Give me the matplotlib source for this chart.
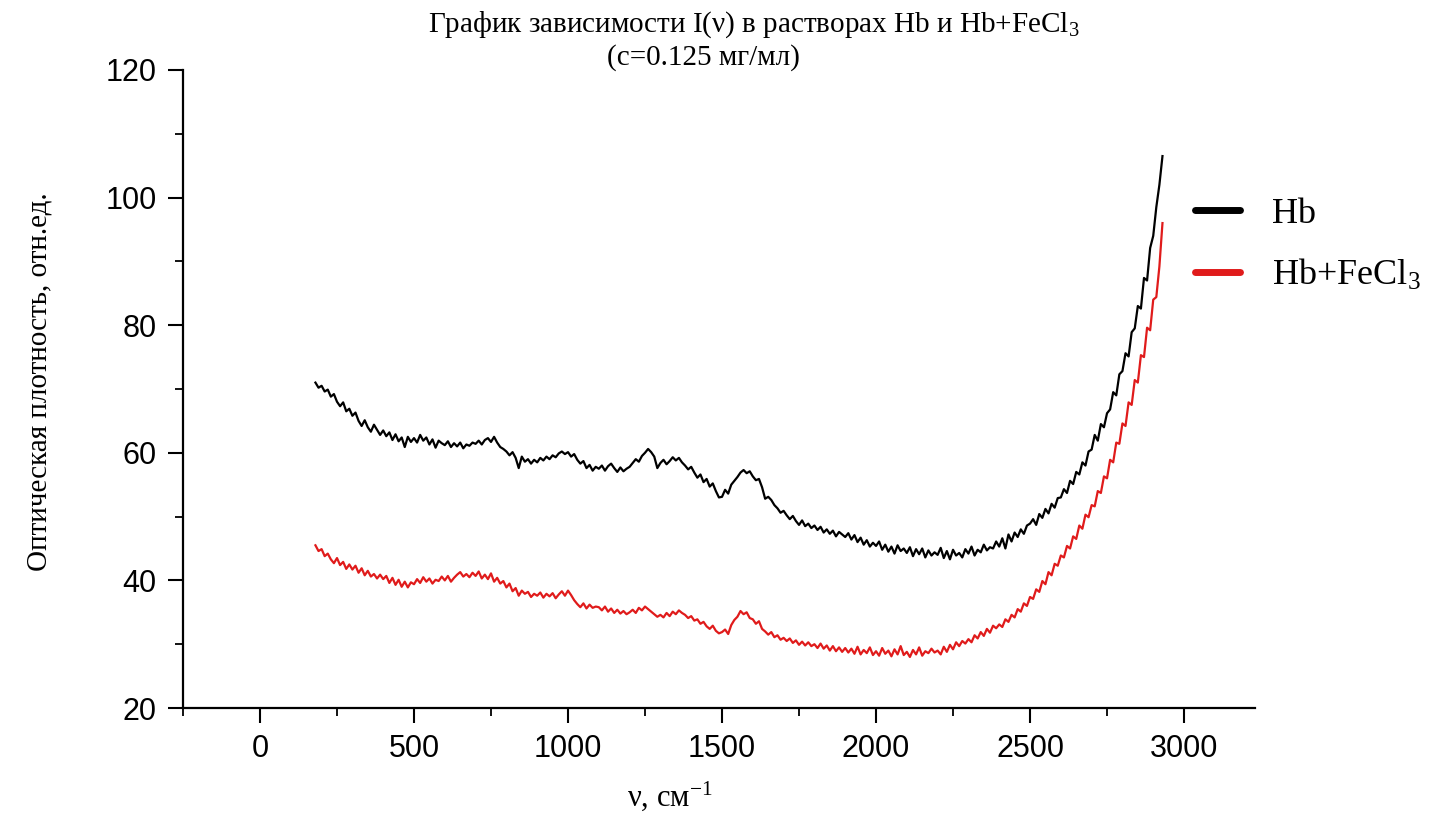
import numpy as np
import matplotlib
matplotlib.use("Agg")
import matplotlib.pyplot as plt

plt.rcParams['mathtext.fontset'] = 'custom'
plt.rcParams['mathtext.rm'] = 'Liberation Serif'
plt.rcParams['mathtext.it'] = 'Liberation Serif:italic'

# wavenumbers, cm-1 (read every 10 cm-1 from the picture)
nu = np.arange(180, 2931, 10)

# Hb
hb = [
    71.0, 70.2,
    70.5, 69.6, 69.9, 68.8, 69.2, 68.0, 67.3, 67.9, 66.5, 66.9,
    65.8, 66.3, 65.0, 64.2, 65.1, 64.0, 63.3, 64.4, 63.6, 62.8,
    63.5, 62.6, 63.2, 62.0, 62.9, 61.8, 62.4, 60.9, 62.5, 61.7,
    62.3, 61.6, 62.8, 61.9, 62.4, 61.3, 62.1, 60.8, 61.9, 61.5,
    61.2, 61.8, 60.9, 61.5, 61.0, 61.6, 60.7, 61.3, 61.1, 61.6,
    61.4, 61.9, 61.3, 62.0, 62.3, 61.7, 62.5, 61.6, 60.9, 60.6,
    60.2, 59.6, 60.1, 59.2, 57.6, 59.4, 58.6, 59.0, 58.3, 58.9,
    58.5, 59.2, 58.8, 59.4, 59.0, 59.6, 59.3, 59.9, 60.2, 59.8,
    60.1, 59.4, 59.8, 58.9, 58.3, 58.7, 57.6, 58.1, 57.2, 57.8,
    57.5, 58.0, 57.2, 57.9, 58.3, 57.6, 57.0, 57.7, 57.1, 57.5,
    57.8, 58.4, 59.0, 58.6, 59.5, 60.0, 60.6, 60.1, 59.4, 57.6,
    58.4, 58.9, 58.2, 58.7, 59.3, 58.8, 59.2, 58.5, 58.0, 57.4,
    57.8, 56.9, 56.1, 56.6, 55.4, 55.9, 54.7, 55.2, 54.0, 53.0,
    53.1, 54.2, 53.6, 55.0, 55.6, 56.2, 56.9, 57.3, 56.8, 57.1,
    56.3, 55.7, 55.9, 54.6, 52.8, 53.1, 52.6, 51.8, 51.3, 50.6,
    50.9, 50.2, 49.6, 50.1, 49.3, 48.7, 49.4, 48.5, 48.9, 48.2,
    48.6, 47.9, 48.4, 47.5, 48.0, 47.3, 47.8, 46.9, 47.6, 47.2,
    46.8, 47.4, 46.4, 47.1, 46.0, 46.7, 45.6, 46.3, 45.3, 45.9,
    45.4, 46.1, 44.8, 45.6, 44.5, 45.3, 44.2, 45.5, 44.6, 45.0,
    44.3, 45.2, 43.8, 44.9, 44.1, 45.0, 43.6, 44.7, 43.9, 44.4,
    44.0, 45.1, 43.5, 44.6, 43.3, 44.8, 43.9, 44.3, 43.6, 44.9,
    44.2, 45.3, 43.9, 44.8, 44.4, 45.6, 44.7, 45.2, 45.0, 46.1,
    45.3, 46.6, 45.0, 47.2, 46.1, 47.5, 46.8, 48.0, 47.3, 48.6,
    48.9, 49.6, 48.7, 50.4, 49.8, 51.2, 50.5, 52.0, 51.4, 52.9,
    53.0, 54.3, 53.7, 55.6, 55.1, 57.0, 56.6, 58.5, 58.0, 60.2,
    60.5, 62.8, 61.9, 64.5, 64.0, 66.2, 66.8, 69.5, 69.0, 72.3,
    72.8, 75.6, 75.1, 78.9, 79.5, 83.0, 82.6, 87.4, 87.0, 92.1,
    94.0, 98.5, 102.0, 106.5,
]

# Hb + FeCl3
hb_fecl3 = [
    45.5, 44.6,
    44.9, 43.8, 44.2, 43.3, 42.7, 43.5, 42.4, 42.9, 41.8, 42.5,
    41.7, 42.3, 41.2, 41.9, 40.8, 41.5, 40.6, 41.0, 40.3, 40.9,
    40.2, 40.7, 39.6, 40.4, 39.3, 40.1, 39.0, 39.8, 38.9, 39.7,
    39.4, 40.2, 39.6, 40.5, 39.8, 40.3, 39.5, 40.1, 39.9, 40.6,
    40.0, 40.7, 39.8, 40.4, 40.9, 41.3, 40.6, 41.0, 40.5, 41.2,
    40.7, 41.4, 40.3, 40.9, 40.2, 41.1, 39.8, 40.4, 39.5, 39.9,
    38.9, 39.5, 38.3, 38.8, 37.6, 38.4, 37.9, 38.2, 37.4, 37.9,
    37.6, 38.1, 37.3, 37.9, 37.5, 38.0, 37.2, 37.8, 38.3, 37.6,
    38.4, 37.7, 36.9, 36.3, 35.8, 36.4, 35.6, 36.2, 35.7, 35.9,
    35.8, 35.3, 35.9, 35.1, 35.6, 34.9, 35.4, 34.8, 35.2, 34.7,
    35.0, 35.4, 34.9, 35.7, 35.3, 35.9, 35.5, 35.1, 34.7, 34.3,
    34.6, 34.2, 34.9, 34.4, 35.1, 34.7, 35.3, 34.9, 34.6, 34.1,
    34.4, 33.7, 33.9, 33.2, 33.5, 32.8, 32.4, 32.9, 32.1, 31.7,
    31.9, 32.3, 31.6, 33.0, 33.8, 34.3, 35.2, 34.7, 35.0, 34.1,
    33.9, 33.2, 33.6, 32.4, 32.0, 31.5, 31.9, 31.1, 31.4, 30.7,
    31.0, 30.5, 30.9, 30.2, 30.6, 29.9, 30.4, 29.8, 30.3, 29.7,
    30.0, 29.4, 30.1, 29.3, 29.8, 29.0, 29.7, 28.9, 29.5, 28.8,
    29.4, 28.7, 29.3, 28.5, 29.6, 28.4, 29.1, 28.6, 29.5, 28.3,
    28.9, 28.2, 29.4, 28.5, 29.0, 28.1, 29.2, 28.4, 29.7, 28.3,
    28.8, 28.0, 29.1, 28.4, 29.5, 28.2, 28.9, 28.6, 29.3, 28.7,
    29.0, 28.4, 29.6, 28.8, 29.9, 29.2, 30.3, 29.7, 30.5, 30.1,
    30.8, 30.3, 31.4, 30.9, 31.9, 31.3, 32.4, 31.8, 32.9, 32.5,
    33.1, 32.7, 33.9, 33.5, 34.6, 34.2, 35.5, 35.1, 36.4, 36.0,
    37.4, 37.1, 38.6, 38.2, 39.9, 39.4, 41.3, 40.8, 42.6, 42.3,
    43.9, 43.6, 45.4, 45.0, 46.9, 46.5, 48.6, 48.1, 50.3, 49.9,
    51.8, 51.6, 54.0, 53.7, 56.3, 56.0, 58.9, 58.5, 61.6, 61.4,
    64.6, 64.2, 67.9, 67.5, 71.4, 71.0, 75.3, 75.0, 79.6, 79.2,
    84.0, 84.4, 89.2, 96.0,
]

labels = ['Hb', 'Hb+FeCl$_3$']

fig = plt.figure(figsize=(14.33, 8.17), dpi=100)
ax = fig.add_axes([0.1277, 0.1334, 0.748, 0.781])

ax.plot(nu, hb, color='black', lw=1.6, label=labels[0])
ax.plot(nu, hb_fecl3, color='#e01b1b', lw=1.6, label=labels[1])

ax.set_xlim(-250, 3230)
ax.set_ylim(20, 120)
ax.set_xticks([0, 500, 1000, 1500, 2000, 2500, 3000])
ax.set_xticks(np.arange(-250, 3230, 250), minor=True)
ax.set_yticks([20, 40, 60, 80, 100, 120])
ax.set_yticks(np.arange(20, 121, 10), minor=True)

for s in ['top', 'right']:
    ax.spines[s].set_visible(False)
for s in ['left', 'bottom']:
    ax.spines[s].set_linewidth(1.6)

ax.tick_params(which='major', direction='out', length=11, width=1.5,
               labelsize=22, pad=8)
ax.tick_params(which='minor', direction='out', length=6, width=1.3)
for lab in ax.get_xticklabels() + ax.get_yticklabels():
    lab.set_family('Liberation Sans')

ax.set_xlabel('ν, см$^{-1}$', fontsize=22, family='Liberation Serif')
ax.xaxis.set_label_coords(0.454, -0.112)
ax.set_ylabel('Оптическая плотность, отн.ед.', fontsize=21,
              family='Liberation Serif')
ax.yaxis.set_label_coords(-0.122, 0.511)

fig.text(0.526, 0.970, 'График зависимости I(ν) в растворах Hb и Hb+FeCl$_3$',
         ha='center', va='center', fontsize=21, family='Liberation Serif')
fig.text(0.491, 0.929, '(c=0.125 мг/мл)',
         ha='center', va='center', fontsize=21, family='Liberation Serif')

leg = ax.legend(loc='upper left', bbox_to_anchor=(0.944, 0.80), frameon=False,
                prop={'family': 'Liberation Serif', 'size': 26},
                borderpad=0, borderaxespad=0,
                handlelength=1.25, handletextpad=0.9, labelspacing=0.75)
for h in leg.get_lines():
    h.set_linewidth(5)
    h.set_solid_capstyle('round')

fig.savefig('out.png', dpi=100)
